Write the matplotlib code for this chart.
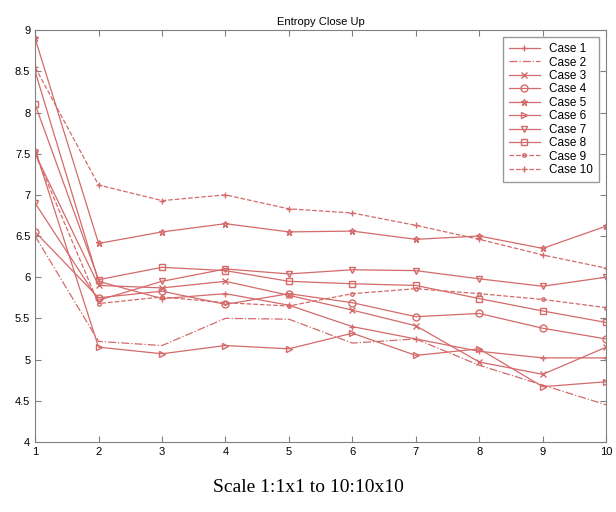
import numpy as np
import matplotlib.pyplot as plt

# steps 1..10
x = np.arange(1, 11)

case1 = [8.5, 5.95, 5.74, 5.8, 5.66, 5.4, 5.25, 5.1, 5.02, 5.02]
case2 = [6.5, 5.22, 5.17, 5.5, 5.49, 5.2, 5.25, 4.93, 4.69, 4.45]
case3 = [7.5, 5.9, 5.87, 5.95, 5.78, 5.6, 5.41, 4.97, 4.82, 5.15]
case4 = [6.55, 5.75, 5.83, 5.67, 5.8, 5.69, 5.52, 5.56, 5.38, 5.25]
case5 = [8.9, 6.41, 6.55, 6.65, 6.55, 6.56, 6.46, 6.5, 6.35, 6.62]
case6 = [7.55, 5.15, 5.07, 5.17, 5.13, 5.32, 5.05, 5.13, 4.67, 4.73]
case7 = [6.9, 5.72, 5.95, 6.1, 6.04, 6.09, 6.08, 5.98, 5.89, 6.0]
case8 = [8.1, 5.97, 6.12, 6.08, 5.95, 5.92, 5.9, 5.74, 5.59, 5.45]
case9 = [7.5, 5.68, 5.76, 5.69, 5.65, 5.8, 5.86, 5.8, 5.73, 5.63]
case10 = [8.55, 7.12, 6.93, 7.0, 6.83, 6.78, 6.63, 6.46, 6.27, 6.11]

cases = [case1, case2, case3, case4, case5, case6, case7, case8, case9, case10]
labels = ["Case %d" % (i + 1) for i in range(10)]
markers = ['+', '', 'x', 'o', '*', '>', 'v', 's', '.', '+']
styles = ['-', '-.', '-', '-', '-', '-', '-', '-', '--', '--']

col = '#d46a6a'
plt.rcParams['font.family'] = ['Liberation Sans', 'DejaVu Sans']

fig = plt.figure(figsize=(6.16, 5.12), dpi=100)
ax = fig.add_axes([0.057, 0.137, 0.927, 0.804])

for y, lab, m, ls in zip(cases, labels, markers, styles):
    ax.plot(x, y, color=col, linestyle=ls, marker=m, markersize=5,
            markerfacecolor='none', markeredgecolor=col, linewidth=0.9, label=lab)

ax.set_xlim(1, 10)
ax.set_ylim(4, 9)
ax.set_xticks(x)
ax.set_yticks(np.arange(4, 9.01, 0.5))
ax.set_yticklabels(["4", "4.5", "5", "5.5", "6", "6.5", "7", "7.5", "8", "8.5", "9"])
ax.tick_params(direction='in', labelsize=8, length=4, color='#808080', top=True, right=True,
               labeltop=False, labelright=False)
for s in ax.spines.values():
    s.set_color('#808080')
ax.set_title("Entropy Close Up", fontsize=8, pad=4)

leg = ax.legend(loc='upper right', fontsize=8.5, frameon=True, fancybox=False,
                borderaxespad=0.6, handlelength=2.6, labelspacing=0.12,
                borderpad=0.5)
leg.get_frame().set_edgecolor('#808080')
leg.get_frame().set_linewidth(1.0)

fig.text(0.5, 0.048, "Scale 1:1x1 to 10:10x10", ha='center', va='center',
         fontsize=14, family='Liberation Serif')

fig.savefig("out.png", dpi=100)
